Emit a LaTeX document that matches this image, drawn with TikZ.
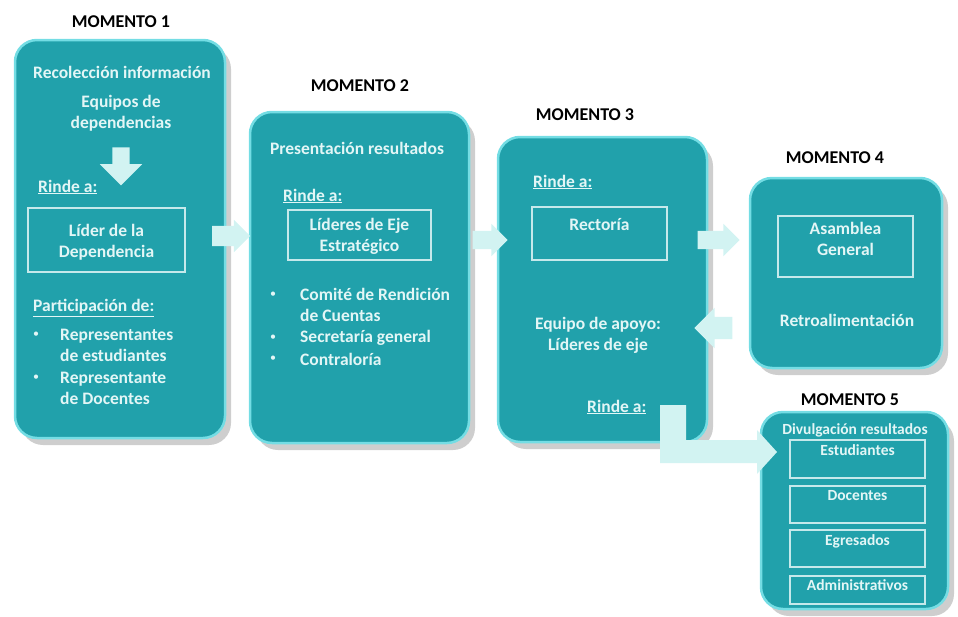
\documentclass[tikz,border=0pt]{standalone}
\usepackage{fontspec}
\setmainfont{Carlito}
\usetikzlibrary{positioning,shapes.arrows,shadows}

\definecolor{tealbox}{HTML}{21A1AB}
\definecolor{glow}{HTML}{74DDE4}
\definecolor{pale}{HTML}{E3F6F6}
\definecolor{palearrow}{HTML}{D2F3F2}

\begin{document}
\begin{tikzpicture}[x=1pt,y=-1pt,
  momento/.style={fill=tealbox, draw=glow, line width=2.5pt, rounded corners=22pt,
    drop shadow={shadow xshift=6pt, shadow yshift=-7pt, fill=black!55, opacity=.35}},
  titulo/.style={font=\bfseries\fontsize{18}{20}\selectfont},
  txt/.style={text=pale, font=\bfseries\fontsize{17.5}{21}\selectfont, align=center, inner sep=0pt},
  chico/.style={txt, font=\bfseries\fontsize{15.5}{17}\selectfont},
  punto/.style={txt, font=\fontsize{12}{12}\selectfont},
  cuadro/.style={draw=pale!85!tealbox, line width=1.5pt, inner sep=0pt},
  flecha/.style={single arrow, fill=palearrow, inner xsep=0pt, inner ysep=10pt,
    single arrow head extend=6pt, minimum height=#1},
]
\useasboundingbox (0,0) rectangle (958,616);

% cajas
\node[momento, minimum width=210pt, minimum height=398pt] (m1) at (120,239) {};
\node[momento, minimum width=219pt, minimum height=331pt] (m2) at (359.5,277.5) {};
\node[momento, minimum width=209pt, minimum height=305pt] (m3) at (602.5,289.5) {};
\node[momento, minimum width=192pt, minimum height=190pt] (m4) at (846,273) {};
\node[momento, minimum width=187pt, minimum height=197pt] (m5) at (854.5,510.5) {};

\node[titulo] (tm1) at (121,22) {MOMENTO 1};
\node[titulo] (tm2) at (360,86) {MOMENTO 2};
\node[titulo] (tm3) at (585,115) {MOMENTO 3};
\node[titulo] (tm4) at (835,158) {MOMENTO 4};
\node[titulo] (tm5) at (850,400) {MOMENTO 5};

% momento 1
\node[txt] (reco) at (122,72) {Recolección información};
\node[txt] (equipos) at (121,113) {Equipos de\\dependencias};
\node[flecha=38pt, rotate=-90, inner ysep=8.5pt, single arrow head extend=12.5pt] (baja) at (121,162) {};
\node[txt, anchor=west] (rinde1) at (38,187) {\underline{Rinde a:}};
\node[cuadro, minimum width=157pt, minimum height=64pt] (lider) at (106.5,240) {};
\node[txt] at (106.5,242) {Líder de la\\Dependencia};
\node[txt, anchor=west] (parti) at (33,308) {\underline{Participación de:}};
\node[punto] at (36,335) {\textbullet};
\node[txt, anchor=west, align=left] (estud) at (60,345) {Representantes\\de estudiantes};
\node[punto] at (36,378) {\textbullet};
\node[txt, anchor=west, align=left] (docen) at (60,388.5) {Representante\\de Docentes};

% momento 2
\node[txt] (presen) at (357,148) {Presentación resultados};
\node[txt, anchor=west] (rinde2) at (283,196) {\underline{Rinde a:}};
\node[cuadro, minimum width=143pt, minimum height=50pt] (ejes) at (359.5,235) {};
\node[txt] at (359.5,236.5) {Líderes de Eje\\Estratégico};
\node[punto] at (273,295) {\textbullet};
\node[txt, anchor=west, align=left] (comite) at (300,305) {Comité de Rendición\\de Cuentas};
\node[punto] at (273,338) {\textbullet};
\node[txt, anchor=west] (secre) at (300,338) {Secretaría general};
\node[punto] at (273,359) {\textbullet};
\node[txt, anchor=west] (contra) at (300,359) {Contraloría};

% momento 3
\node[txt, anchor=west] (rinde3) at (533,182) {\underline{Rinde a:}};
\node[cuadro, minimum width=135pt, minimum height=53pt] (rector) at (599.5,233.5) {};
\node[txt] at (599.5,225) {Rectoría};
\node[txt] (apoyo) at (598,335) {Equipo de apoyo:\\Líderes de eje};
\node[txt, anchor=west] (rinde4) at (587,407) {\underline{Rinde a:}};

% momento 4
\node[cuadro, minimum width=135pt, minimum height=61pt] (asamb) at (845.5,246.5) {};
\node[txt] at (845.5,239) {Asamblea\\General};
\node[txt] (retro) at (847,320) {Retroalimentación};

% momento 5
\node[chico] (divul) at (855,430) {Divulgación resultados};
\node[cuadro, minimum width=135pt, minimum height=38pt] (estu) at (857.5,459) {};
\node[chico, below=5pt of estu.north] {Estudiantes};
\node[cuadro, minimum width=135pt, minimum height=37pt] (doce) at (857.5,504.5) {};
\node[chico, below=5pt of doce.north] {Docentes};
\node[cuadro, minimum width=135pt, minimum height=37pt] (egre) at (857.5,548.5) {};
\node[chico, below=5pt of egre.north] {Egresados};
\node[cuadro, minimum width=135pt, minimum height=28pt] (admin) at (857.5,590) {};
\node[chico, below=4pt of admin.north] {Administrativos};

% flechas
\node[flecha=38pt] (a12) at (226,236) {};
\node[flecha=35pt, inner ysep=9pt, single arrow head extend=7pt] (a23) at (485.5,240) {};
\node[flecha=42pt, inner ysep=9pt, single arrow head extend=7pt] (a34) at (714,240) {};
\node[flecha=38pt, rotate=180, inner ysep=11pt, single arrow head extend=9pt] (a43) at (719,328) {};
\fill[palearrow] (660,405) -- (686,405) -- (686,440) -- (757,440) -- (757,430)
  -- (777,452) -- (757,474) -- (757,463) -- (660,463) -- cycle;
\end{tikzpicture}
\end{document}
